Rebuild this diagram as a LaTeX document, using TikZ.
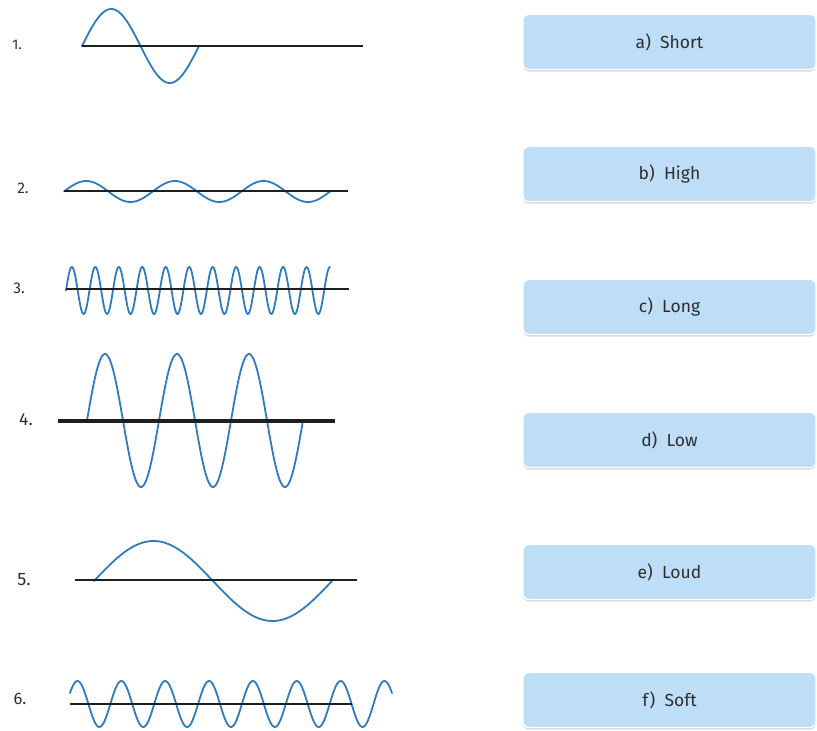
\documentclass[tikz,border=0pt]{standalone}
\usepackage{fontspec}
\setmainfont{Fira Sans}
\usetikzlibrary{shadows}
\definecolor{wavecol}{HTML}{2E7BC0}
\definecolor{boxfill}{HTML}{BEDDF6}
\definecolor{txtcol}{HTML}{2E2E2E}
\definecolor{axiscol}{HTML}{1E1E1E}
\begin{document}
\begin{tikzpicture}[x=1pt,y=-1pt,
  ansbox/.style={draw=white, line width=1.2pt, fill=boxfill, rounded corners=6pt,
    minimum width=293pt, minimum height=55pt, inner sep=0pt,
    text=txtcol, font=\fontsize{17.5}{20}\selectfont,
    drop shadow={shadow xshift=0pt, shadow yshift=-2pt, opacity=.25, fill=black!60}},
  numlabel/.style={text=txtcol, inner sep=0pt},
  wave/.style={draw=wavecol, line width=1.8pt, line join=round, line cap=round},
  axisline/.style={draw=axiscol, line width=2.4pt}]
\useasboundingbox (0,0) rectangle (817,731);

% answer boxes
\node[ansbox] (a) at (669.5,42)  {a)\ \ Short};
\node[ansbox] (b) at (669.5,174) {b)\ \ High};
\node[ansbox] (c) at (669.5,307) {c)\ \ Long};
\node[ansbox] (d) at (669.5,440) {d)\ \ Low};
\node[ansbox] (e) at (669.5,572) {e)\ \ Loud};
\node[ansbox] (f) at (669.5,700) {f)\ \ Soft};

% number labels
\node[numlabel, font=\fontsize{14}{16}\selectfont]   (n1) at (17,45)  {1.};
\node[numlabel, font=\fontsize{15.5}{17}\selectfont] (n2) at (23,188) {2.};
\node[numlabel, font=\fontsize{15.5}{17}\selectfont] (n3) at (19,288) {3.};
\node[numlabel, font=\fontsize{17.5}{19}\selectfont] (n4) at (26,420) {4.};
\node[numlabel, font=\fontsize{18}{20}\selectfont]   (n5) at (24,580) {5.};
\node[numlabel, font=\fontsize{16.5}{18}\selectfont] (n6) at (20,699) {6.};

% waves
\draw[wave] plot[domain=82:199, samples=120, smooth] (\x,{46-37*sin((\x-82)/117*360)});
\draw[wave] plot[domain=64:330, samples=200, smooth] (\x,{191.5-10.5*sin((\x-64)/88.7*360)});
\draw[wave] plot[domain=66:330, samples=500, smooth] (\x,{290.5-23.5*sin((\x-66)/23.47*360)});
\draw[wave] plot[domain=87:303, samples=250, smooth] (\x,{420.5-66.5*sin((\x-87)/72*360)});
\draw[wave] plot[domain=94:332, samples=150, smooth] (\x,{581-40*sin((\x-94)/238*360)});
\draw[wave] plot[domain=70:392, samples=350, smooth] (\x,{704-23*sin((\x-66.5)/43.86*360)});

% axes
\coordinate (l1a) at (82,46);  \coordinate (l1b) at (363,46);
\coordinate (l2a) at (64,191); \coordinate (l2b) at (348,191);
\coordinate (l3a) at (66,289); \coordinate (l3b) at (349,289);
\coordinate (l4a) at (58,421); \coordinate (l4b) at (335,421);
\coordinate (l5a) at (75,580); \coordinate (l5b) at (357,580);
\coordinate (l6a) at (70,704); \coordinate (l6b) at (352,704);
\draw[axisline] (l1a) -- (l1b);
\draw[axisline] (l2a) -- (l2b);
\draw[axisline] (l3a) -- (l3b);
\draw[axisline, line width=3.4pt] (l4a) -- (l4b);
\draw[axisline] (l5a) -- (l5b);
\draw[axisline] (l6a) -- (l6b);
\end{tikzpicture}
\end{document}
